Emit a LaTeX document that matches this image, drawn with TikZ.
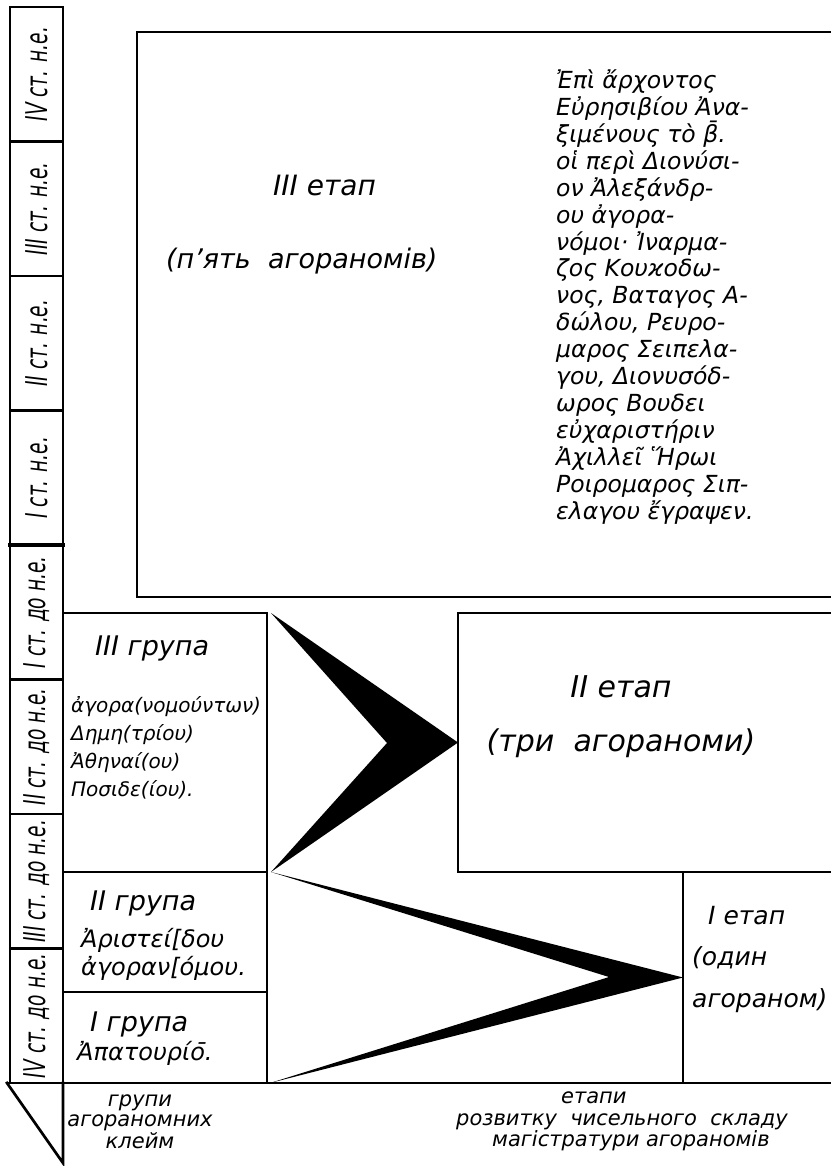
\documentclass[tikz,border=0pt]{standalone}
\usepackage{fontspec}
\setmainfont{DejaVu Sans}
\usepackage{tikz}
\usetikzlibrary{positioning}
\tikzset{%
	box/.style={
		draw,
		line width=2.7pt,
		inner sep=0pt,
		outer sep=0pt,
		anchor=north west
	},
	century/.style={
		draw,
		line width=2.7pt,
		inner sep=0pt,
		outer sep=0pt,
		minimum width=53pt,
		minimum height=134.5pt
	},
	century label/.style={
		rotate=90,
		xscale=0.62,
		inner sep=0pt,
		font=\fontsize{30}{30}\selectfont\itshape
	},
	rule line/.style={
		line width=2.7pt,
		line cap=rect
	},
	chevron/.style={
		fill=black
	},
	stage label/.style={
		inner sep=0pt,
		anchor=base west,
		font=\fontsize{28}{28}\selectfont\itshape
	},
	group label/.style={
		inner sep=0pt,
		anchor=base west,
		font=\fontsize{27}{27}\selectfont\itshape
	},
	greek text/.style={
		inner sep=0pt,
		anchor=base west,
		align=left,
		font=\fontsize{23.5}{26.9}\selectfont\itshape
	},
	caption text/.style={
		inner sep=0pt,
		anchor=base west,
		font=\fontsize{21}{20}\selectfont\itshape
	},
}

\begin{document}
\begin{tikzpicture}[x=1pt, y=-1pt]
			\useasboundingbox (0,0) rectangle (830,1166);
			
			% Century strip on the left, one cell below the other
			\node[century, anchor=north west] (cen1) at (10,7) {};
			\node[century, below=0pt of cen1] (cen2) {};
			\node[century, below=0pt of cen2] (cen3) {};
			\node[century, below=0pt of cen3] (cen4) {};
			\node[century, below=0pt of cen4] (cen5) {};
			\node[century, below=0pt of cen5] (cen6) {};
			\node[century, below=0pt of cen6] (cen7) {};
			\node[century, below=0pt of cen7] (cen8) {};
			\draw[rule line, line width=4.5pt] (cen5.north west) -- (cen5.north east);
			
			\node[century label] (cen1t) at (cen1) {IV ст. н.е.};
			\node[century label] (cen2t) at (cen2) {III ст. н.е.};
			\node[century label] (cen3t) at (cen3) {II ст. н.е.};
			\node[century label] (cen4t) at (cen4) {I ст. н.е.};
			\node[century label] (cen5t) at (cen5) {I ст. до н.е.};
			\node[century label] (cen6t) at (cen6) {II ст. до н.е.};
			\node[century label] (cen7t) at (cen7) {III ст. до н.е.};
			\node[century label] (cen8t) at (cen8) {IV ст. до н.е.};
			
			% Third stage (top box, open to the right)
			\node[box, minimum width=710pt, minimum height=565pt] (etapIII) at (137,32) {};
			\node[stage label] (etapIIIname) at (273,196) {III етап};
			\node[stage label, font=\fontsize{27}{27}\selectfont\itshape] (etapIIIsub) at (166,268) {(п’ять\ \ агораномів)};
			% anchor sits on the last line
			\node[greek text] (napys) at (556,519) {Ἐπὶ ἄρχοντος\\
				Εὐρησιβίου Ἀνα-\\
				ξιμένους τὸ β̄.\\
				οἱ περὶ Διονύσι-\\
				ον Ἀλεξάνδρ-\\
				ου ἀγορα-\\
				νόμοι· Ἰναρμα-\\
				ζος Κουϰοδω-\\
				νος, Βαταγος Α-\\
				δώλου, Ρευρο-\\
				μαρος Σειπελα-\\
				γου, Διονυσόδ-\\
				ωρος Βουδει\\
				εὐχαριστήριν\\
				Ἀχιλλεῖ Ἥρωι\\
				Ροιρομαρος Σιπ-\\
				ελαγου ἔγραψεν.};
			
			% Groups of stamps, stacked below each other
			\node[box, minimum width=204pt, minimum height=259pt] (grpIII) at (63,613) {};
			\node[box, anchor=north, minimum width=204pt, minimum height=120pt, below=0pt of grpIII] (grpII) {};
			\node[box, anchor=north, minimum width=204pt, minimum height=91pt, below=0pt of grpII] (grpI) {};
			
			\node[group label] (grpIIIname) at (95,655) {III група};
			\node[greek text, font=\fontsize{20}{28}\selectfont\itshape] (grpIIItext) at (71,796) {ἀγορα(νομούντων)\\Δημη(τρίου)\\Ἀθηναί(ου)\\Ποσιδε(ίου).};
			\node[group label] (grpIIname) at (90,910) {II група};
			\node[greek text, font=\fontsize{24}{28}\selectfont\itshape] (grpIItext) at (81,975) {Ἀριστεί[δου\\ἀγοραν[όμου.};
			\node[group label] (grpIname) at (90,1031) {I група};
			\node[greek text, font=\fontsize{24}{28}\selectfont\itshape] (grpItext) at (77,1060) {Ἀπατουρίο̄.};
			
			% Second and first stage
			\node[box, minimum width=400pt, minimum height=259pt] (etapII) at (458,613) {};
			\node[box, minimum width=170pt, minimum height=211pt] (etapI) at (683,872) {};
			\node[stage label, anchor=base, align=center, font=\fontsize{30}{54}\selectfont\itshape] (etapIIname) at (621,751) {II етап\\(три\ \ агораноми)};
			\node[stage label, align=left, font=\fontsize{25}{41.5}\selectfont\itshape] (etapIname) at (692,1007) {\hspace*{16pt}I етап\\(один\\агораном)};
			
			% Black chevrons from the groups to the stages
			\coordinate (notchII) at (387,743);
			\coordinate (notchI) at (609,977);
			\fill[chevron] ([xshift=4pt]grpIII.north east) -- (etapII.west) -- ([xshift=4pt]grpIII.south east) -- (notchII) -- cycle;
			\fill[chevron] ([xshift=4pt]grpII.north east) -- (etapI.west) -- ([xshift=3pt]grpI.south east) -- (notchI) -- cycle;
			
			% Base line and the corner triangle
			\coordinate (baseW) at (7,1083);
			\coordinate (baseE) at (840,1083);
			\coordinate (tri) at (63,1163);
			\draw[rule line] (baseW) -- (baseE);
			\draw[rule line] (baseW) -- (tri) -- (grpI.south west);
			
			% Captions under the base line
			\node[caption text, anchor=base, align=center] (klejmy) at (140,1148) {групи\\агораномних\\клейм};
			\node[caption text] (etapy) at (561,1103) {етапи};
			\node[caption text] (rozvytku) at (456,1125) {розвитку\ \ чисельного\ \ складу};
			\node[caption text] (mahistr) at (492,1146) {магістратури агораномів};
		\end{tikzpicture}
\end{document}
